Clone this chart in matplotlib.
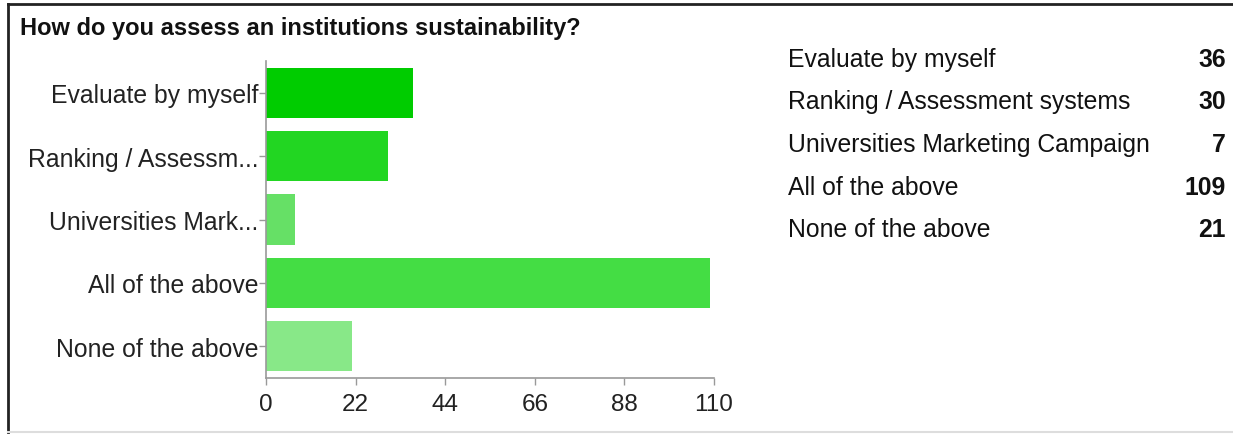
import matplotlib
matplotlib.use("Agg")
import matplotlib.pyplot as plt
from matplotlib.lines import Line2D

title = "How do you assess an institutions sustainability?"
categories = ["Evaluate by myself", "Ranking / Assessment systems",
              "Universities Marketing Campaign", "All of the above", "None of the above"]
axis_labels = ["Evaluate by myself", "Ranking / Assessm...", "Universities Mark...",
               "All of the above", "None of the above"]
counts = [36, 30, 7, 109, 21]
xticks = [0, 22, 44, 66, 88, 110]
bar_colors = ["#00cc00", "#22d622", "#66e066", "#44dd44", "#88e888"]

plt.rcParams['font.family'] = ['Liberation Sans', 'DejaVu Sans']

W, H = 1233, 435
fig = plt.figure(figsize=(W / 100, H / 100), dpi=100)
fig.patch.set_facecolor("white")

ax = fig.add_axes([266 / W, 1 - 379 / H, (714 - 266) / W, (379 - 62) / H])
ypos = list(range(len(categories)))
ax.barh(ypos, counts, height=0.79, color=bar_colors, edgecolor="none")
ax.set_ylim(len(categories) - 0.5, -0.5)
ax.set_xlim(0, 110)
ax.set_xticks(xticks)
ax.set_xticklabels([str(v) for v in xticks], fontsize=17.5, color="#222222")
ax.set_yticks(ypos)
ax.set_yticklabels(axis_labels, fontsize=17.8, color="#222222")
for s in ["top", "right"]:
    ax.spines[s].set_visible(False)
for s in ["left", "bottom"]:
    ax.spines[s].set_color("#999999")
    ax.spines[s].set_linewidth(1.2)
ax.tick_params(axis="y", length=5, width=1, color="#999999", pad=0.5)
ax.tick_params(axis="x", length=5, width=1, color="#999999", pad=6)

fig.text(20 / W, 1 - 28 / H, title, fontsize=17, fontweight="bold",
         color="#111111", ha="left", va="center")

row_y = [60, 102, 145, 188, 230]
for lab, val, y in zip(categories, counts, row_y):
    fig.text(788 / W, 1 - y / H, lab, fontsize=17.8, color="#111111",
             ha="left", va="center")
    fig.text(1226 / W, 1 - y / H, str(val), fontsize=17.8, fontweight="bold",
             color="#111111", ha="right", va="center")

# outer frame
fig.add_artist(Line2D([8 / W, 8 / W], [1 - 5 / H, 1 - 433 / H], transform=fig.transFigure,
                      color="#222222", linewidth=2))
fig.add_artist(Line2D([8 / W, 1.0], [1 - 5 / H, 1 - 5 / H], transform=fig.transFigure,
                      color="#222222", linewidth=2))
fig.add_artist(Line2D([8 / W, 1.0], [1 - 433 / H, 1 - 433 / H], transform=fig.transFigure,
                      color="#dddddd", linewidth=1.5))

fig.savefig("out.png", dpi=100)
